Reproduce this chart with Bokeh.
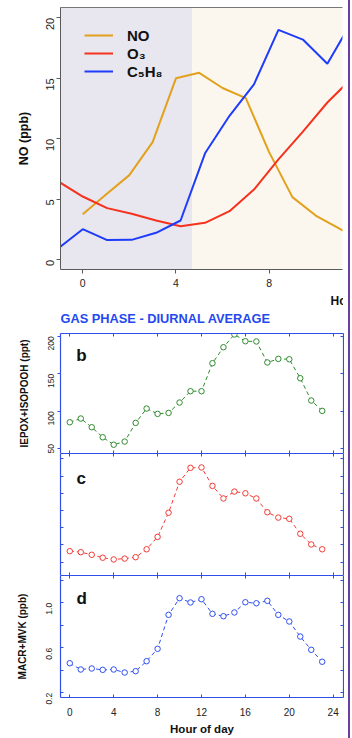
import math
from bokeh.plotting import figure
from bokeh.models import (LinearAxis, FixedTicker, Range1d, BoxAnnotation, Legend,
                          LegendItem, Label, Div, Spacer, Title, NumeralTickFormatter)
from bokeh.layouts import column, row
from bokeh.embed import file_html
from bokeh.resources import INLINE

FONT = "Liberation Sans"

# ---------------- data: top panel (time series, cropped) ----------------
no_hours = [0, 1, 2, 3, 4, 5, 6, 7, 8, 9, 10, 11, 12]
no_ppb = [3.77, 5.4, 7.0, 9.72, 15.0, 15.45, 14.2, 13.36, 8.9, 5.18, 3.66, 2.6, 1.5]
trace_hours = [-1.05, 0, 1.05, 2.1, 3.15, 4.2, 5.25, 6.3, 7.35, 8.4, 9.45, 10.5, 11.55]
o3_ppb = [6.48, 5.23, 4.27, 3.8, 3.25, 2.78, 3.06, 4.02, 5.81, 8.3, 10.6, 13.0, 15.0]
c5h8_ppb = [0.95, 2.53, 1.63, 1.65, 2.23, 3.25, 8.8, 11.9, 14.5, 19.0, 18.2, 16.2, 19.7]
day_start = 4.7
top_x_ticks = [0, 4, 8, 12]
top_y_ticks = [0, 5, 10, 15, 20]

# ---------------- data: diurnal averages ----------------
hours = list(range(24))
iepox_ppt = [85.3, 90.3, 78.7, 65.3, 55.4, 59.6, 84.5, 103.6, 96.5, 97.8, 111.6, 126.7,
             126.7, 164.0, 185.3, 202.3, 193.3, 193.0, 165.0, 169.8, 169.3, 144.0, 114.3, 100.5]
panel_c = [1.64, 1.58, 1.43, 1.26, 1.16, 1.21, 1.29, 1.75, 2.47, 3.87, 5.67, 6.48,
           6.50, 5.43, 4.70, 5.10, 5.00, 4.70, 3.90, 3.59, 3.52, 2.65, 2.03, 1.75]
macr_mvk_ppb = [0.463, 0.407, 0.416, 0.404, 0.407, 0.380, 0.392, 0.481, 0.591, 0.893, 1.041, 1.003,
                1.032, 0.902, 0.881, 0.914, 1.005, 0.996, 1.018, 0.893, 0.834, 0.700, 0.582, 0.476]
hour_ticks = [0, 4, 8, 12, 16, 20, 24]
b_ticks = [50, 100, 150, 200]
c_ticks = [1, 2, 3, 4, 5, 6, 7]
d_ticks = [0.2, 0.6, 1.0]
d_minor = [0.4, 0.8, 1.2]

NO_COL = "#E2A11C"
O3_COL = "#F5321E"
C5_COL = "#1E3CFA"
FRAME = "#2F4FE6"
GRAY = "#5a5a5a"

# ======================= top figure =======================
top = figure(width=343, height=325, x_range=Range1d(-0.954, 11.15), y_range=Range1d(-0.80, 20.85),
             output_backend="svg", toolbar_location=None, min_border_left=60, min_border_right=0,
             min_border_top=7, min_border_bottom=56, x_axis_location=None, y_axis_location=None)
top.grid.visible = False
top.outline_line_color = None
top.background_fill_color = "white"
top.border_fill_color = "white"

top.add_layout(BoxAnnotation(right=day_start, fill_color="#E8E6EE", fill_alpha=1, line_color=None, level="underlay"))
top.add_layout(BoxAnnotation(left=day_start, fill_color="#FBF7EF", fill_alpha=1, line_color=None, level="underlay"))

r_no = top.line(no_hours, no_ppb, line_color=NO_COL, line_width=2)
r_o3 = top.line(trace_hours, o3_ppb, line_color=O3_COL, line_width=2)
r_c5 = top.line(trace_hours, c5h8_ppb, line_color=C5_COL, line_width=2)

ly = LinearAxis(ticker=FixedTicker(ticks=top_y_ticks), axis_label="NO (ppb)")
ly.axis_line_color = GRAY
ly.major_tick_line_color = GRAY
ly.major_tick_out = 4
ly.major_tick_in = 0
ly.minor_tick_line_color = None
ly.minor_tick_out = 0
ly.major_label_orientation = math.pi / 2
ly.major_label_text_font = FONT
ly.major_label_text_font_size = "11px"
ly.major_label_text_color = "#222"
ly.major_label_standoff = 6
ly.axis_label_text_font = FONT
ly.axis_label_text_font_style = "bold"
ly.axis_label_text_font_size = "12.5px"
ly.axis_label_text_color = "#111"
ly.axis_label_standoff = 9
top.add_layout(ly, "left")

lx = LinearAxis(ticker=FixedTicker(ticks=top_x_ticks))
lx.axis_line_color = GRAY
lx.major_tick_line_color = GRAY
lx.major_tick_out = 4
lx.major_tick_in = 0
lx.minor_tick_line_color = None
lx.minor_tick_out = 0
lx.major_label_text_font = FONT
lx.major_label_text_font_size = "10.5px"
lx.major_label_text_color = "#222"
lx.major_label_standoff = 5
top.add_layout(lx, "below")

tx = LinearAxis(ticker=FixedTicker(ticks=[]))
tx.axis_line_color = "#777"
tx.major_tick_out = 0
tx.major_tick_in = 0
tx.minor_tick_out = 0
tx.minor_tick_in = 0
tx.major_label_text_font_size = "0px"
tx.major_label_text_color = None
tx.major_label_standoff = 0
top.add_layout(tx, "above")

legend = Legend(items=[LegendItem(label="NO", renderers=[r_no]),
                       LegendItem(label="O₃", renderers=[r_o3]),
                       LegendItem(label="C₅H₈", renderers=[r_c5])],
                location=(24, 189), orientation="vertical", padding=0, margin=0, spacing=0,
                glyph_width=29, glyph_height=18, label_height=18, label_standoff=14,
                label_text_font=FONT, label_text_font_style="bold", label_text_font_size="15px",
                label_text_color="#111", background_fill_alpha=0, border_line_color=None)
top.add_layout(legend)

# cropped x-axis title of the top chart, and the heading of the lower chart
t_hour = Title(text="Hour of day", align="left", offset=270, standoff=4, text_font=FONT,
               text_font_style="bold", text_font_size="12px", text_color="#111")
top.add_layout(t_hour, "below")
t_gas = Title(text="GAS PHASE - DIURNAL AVERAGE", align="left", offset=0, standoff=-2, text_font=FONT,
              text_font_style="bold", text_font_size="12.8px", text_color="#2448F0")
top.add_layout(t_gas, "below")


# ======================= diurnal panels =======================
def frame_axis(ticks, minor=None):
    ax = LinearAxis(ticker=FixedTicker(ticks=ticks, minor_ticks=minor or []))
    ax.axis_line_color = FRAME
    ax.axis_line_width = 1.2
    ax.major_tick_line_color = FRAME
    ax.minor_tick_line_color = FRAME
    ax.major_tick_in = 3
    ax.major_tick_out = 0
    ax.minor_tick_in = 3
    ax.minor_tick_out = 0
    ax.major_label_text_font_size = "0px"
    ax.major_label_text_color = None
    ax.major_label_standoff = 0
    return ax


def make_panel(height, y_range, min_top, min_bottom):
    p = figure(width=344, height=height, x_range=Range1d(-0.847, 24.94), y_range=Range1d(*y_range),
               output_backend="svg", toolbar_location=None, min_border_left=60, min_border_right=1,
               min_border_top=min_top, min_border_bottom=min_bottom,
               x_axis_location=None, y_axis_location=None)
    p.grid.visible = False
    p.outline_line_color = None
    return p


def draw_series(p, ys, color):
    p.line(hours, ys, line_color=color, line_width=1, line_dash="4 3")
    p.scatter(hours, ys, marker="circle", size=5.5, line_color=color, line_width=1, fill_color="white")


def letter(p, x, y, t):
    p.add_layout(Label(x=x, y=y, text=t, text_font=FONT, text_font_style="bold", text_font_size="17px",
                       text_baseline="middle", text_align="left", text_color="#111"))


def labelled(ax, size, standoff):
    ax.major_label_text_font_size = size
    ax.major_label_text_font = FONT
    ax.major_label_text_color = "#222"
    ax.major_label_standoff = standoff


def ytitle(ax, text, standoff):
    ax.axis_label = text
    ax.axis_label_text_font = FONT
    ax.axis_label_text_font_style = "bold"
    ax.axis_label_text_font_size = "10px"
    ax.axis_label_text_color = "#111"
    ax.axis_label_standoff = standoff


# panel b
pb = make_panel(128, (43.7, 203.6), 8, 0)
draw_series(pb, iepox_ppt, "#2F8A2F")
lb = frame_axis(b_ticks)
lb.major_tick_in = 0
lb.major_tick_out = 3
labelled(lb, "8.5px", 6)
lb.major_label_orientation = math.pi / 2
ytitle(lb, "IEPOX+ISOPOOH (ppt)", 13)
pb.add_layout(lb, "left")
pb.add_layout(frame_axis(b_ticks), "right")
pb.add_layout(frame_axis(hour_ticks), "above")
pb.add_layout(frame_axis(hour_ticks), "below")
letter(pb, 0.58, 174, "b")

# panel c
pc = make_panel(122, (0.228, 7.31), 0, 0)
draw_series(pc, panel_c, "#F23C36")
pc.add_layout(frame_axis(c_ticks), "left")
pc.add_layout(frame_axis(c_ticks), "right")
pc.add_layout(frame_axis(hour_ticks), "above")
pc.add_layout(frame_axis(hour_ticks), "below")
letter(pc, 0.62, 5.87, "c")

# panel d
pd_ = make_panel(163, (0.158, 1.243), 0, 41)
draw_series(pd_, macr_mvk_ppb, "#2F4FF2")
ld = frame_axis(d_ticks, d_minor)
labelled(ld, "8.5px", 11)
ld.formatter = NumeralTickFormatter(format="0.0")
ld.major_label_orientation = math.pi / 2
ytitle(ld, "MACR+MVK (ppb)", 13)
pd_.add_layout(ld, "left")
pd_.add_layout(frame_axis(d_ticks, d_minor), "right")
pd_.add_layout(frame_axis(hour_ticks), "above")
bd = frame_axis(hour_ticks)
labelled(bd, "10px", 10)
bd.axis_label = "Hour of day"
bd.axis_label_text_font = FONT
bd.axis_label_text_font_style = "bold"
bd.axis_label_text_font_size = "11.5px"
bd.axis_label_text_color = "#111"
bd.axis_label_standoff = 4
pd_.add_layout(bd, "below")
letter(pd_, 0.6, 1.038, "d")

left_col = column(top, pb, pc, pd_, spacing=0)
edge = Div(text="", width=2, height=738, margin=0, styles={"background-color": "#6B3FA0"})
layout = row(left_col, Spacer(width=4, height=738), edge, spacing=0)

open("out.html", "w").write(file_html(layout, INLINE))
